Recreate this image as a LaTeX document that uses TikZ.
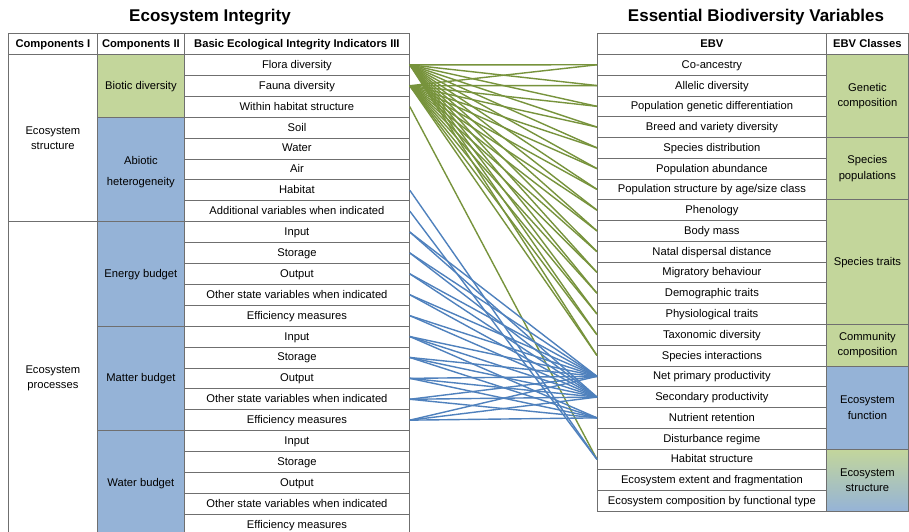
\documentclass[tikz,border=0pt]{standalone}
\usepackage{fontspec}
\setmainfont{Liberation Sans}
\definecolor{gfill}{HTML}{C3D69B}
\definecolor{bfill}{HTML}{95B3D7}
\definecolor{gline}{HTML}{77933C}
\definecolor{bline}{HTML}{4F81BD}
\definecolor{gridc}{HTML}{6F6F6F}
\begin{document}
\begin{tikzpicture}[x=1pt,y=-1pt,
  cell/.style={draw=gridc, line width=0.8pt, rectangle, inner sep=0pt, anchor=north west, font=\fontsize{11.2}{15.5}\selectfont, align=center, text height=8.5pt, text depth=1.5pt},
  multi/.style={cell, text height={}, text depth={}},
  hdr/.style={cell, font=\bfseries\fontsize{11.2}{15.5}\selectfont},
  ttl/.style={font=\bfseries\fontsize{17}{20}\selectfont},
  gl/.style={draw=gline, line width=1.4pt},
  bl/.style={draw=bline, line width=1.4pt},
]
\clip (0,0) rectangle (909,532);
\fill[white] (0,0) rectangle (909,532);
% titles
\node[ttl] (t1) at (210,17) {Ecosystem Integrity};
\node[ttl] (t2) at (756,17) {Essential Biodiversity Variables};
% left headers
\node[hdr, minimum width=89pt, minimum height=21pt] (h1) at (8,33) {Components I};
\node[hdr, minimum width=87pt, minimum height=21pt] (h2) at (97,33) {Components II};
\node[hdr, minimum width=225pt, minimum height=21pt] (h3) at (184,33) {Basic Ecological Integrity Indicators III};
% right headers
\node[hdr, minimum width=229pt, minimum height=21pt] (h4) at (597,33) {EBV};
\node[hdr, minimum width=82pt, minimum height=21pt] (h5) at (826,33) {EBV Classes};
% left rows
\foreach \t [count=\i] in {Flora diversity, Fauna diversity, Within habitat structure, Soil, Water, Air, Habitat, Additional variables when indicated, Input, Storage, Output, Other state variables when indicated, Efficiency measures, Input, Storage, Output, Other state variables when indicated, Efficiency measures, Input, Storage, Output, Other state variables when indicated, Efficiency measures}
  \node[cell, minimum width=225pt, minimum height=20.9pt] (L\i) at (184,{54+(\i-1)*20.9}) {\t};
% components I
\node[multi, minimum width=89pt, minimum height=167.2pt] (c1) at (8,54) {Ecosystem\\structure};
\node[multi, minimum width=89pt, minimum height=313.5pt] (c2) at (8,221.2) {Ecosystem\\processes};
% components II
\node[cell, fill=gfill, minimum width=87pt, minimum height=62.7pt] (d1) at (97,54) {Biotic diversity};
\node[multi, fill=bfill, minimum width=87pt, minimum height=104.5pt] (d2) at (97,116.7) {\rule{0pt}{14pt}Abiotic\\[5pt]heterogeneity};
\node[cell, fill=bfill, minimum width=87pt, minimum height=104.5pt] (d3) at (97,221.2) {Energy budget};
\node[cell, fill=bfill, minimum width=87pt, minimum height=104.5pt] (d4) at (97,325.7) {Matter budget};
\node[cell, fill=bfill, minimum width=87pt, minimum height=104.5pt] (d5) at (97,430.2) {Water budget};
% right rows
\foreach \t [count=\i] in {Co-ancestry, Allelic diversity, Population genetic differentiation, Breed and variety diversity, Species distribution, Population abundance, Population structure by age/size class, Phenology, Body mass, Natal dispersal distance, Migratory behaviour, Demographic traits, Physiological traits, Taxonomic diversity, Species interactions, Net primary productivity, Secondary productivity, Nutrient retention, Disturbance regime, Habitat structure, Ecosystem extent and fragmentation, Ecosystem composition by functional type}
  \node[cell, minimum width=229pt, minimum height=20.77pt] (R\i) at (597,{54+(\i-1)*20.77}) {\t};
% EBV classes
\node[multi, fill=gfill, minimum width=82pt, minimum height=83.1pt] (e1) at (826,54) {Genetic\\composition};
\node[multi, fill=gfill, minimum width=82pt, minimum height=62.3pt] (e2) at (826,137.1) {Species\\populations};
\node[cell, fill=gfill, minimum width=82pt, minimum height=124.6pt] (e3) at (826,199.4) {Species traits};
\node[multi, fill=gfill, minimum width=82pt, minimum height=41.6pt] (e4) at (826,324.0) {Community\\composition};
\node[multi, fill=bfill, minimum width=82pt, minimum height=83.1pt] (e5) at (826,365.6) {Ecosystem\\function};
\node[multi, top color=gfill, bottom color=bfill, minimum width=82pt, minimum height=62.3pt] (e6) at (826,448.7) {Ecosystem\\structure};
% green connectors
\foreach \j in {1,...,15} {
  \draw[gl] (L1.east) -- (R\j.west);
  \draw[gl] (L2.east) -- (R\j.west);
}
\draw[gl] (L3.east) -- (R20.west);
% blue connectors
\draw[bl] (L7.east) -- (R20.west);
\draw[bl] (L8.east) -- (R20.west);
\foreach \i in {9,...,13} {
  \draw[bl] (L\i.east) -- (R16.west);
  \draw[bl] (L\i.east) -- (R17.west);
}
\foreach \i in {14,...,18} {
  \draw[bl] (L\i.east) -- (R16.west);
  \draw[bl] (L\i.east) -- (R17.west);
  \draw[bl] (L\i.east) -- (R18.west);
}
\end{tikzpicture}
\end{document}
